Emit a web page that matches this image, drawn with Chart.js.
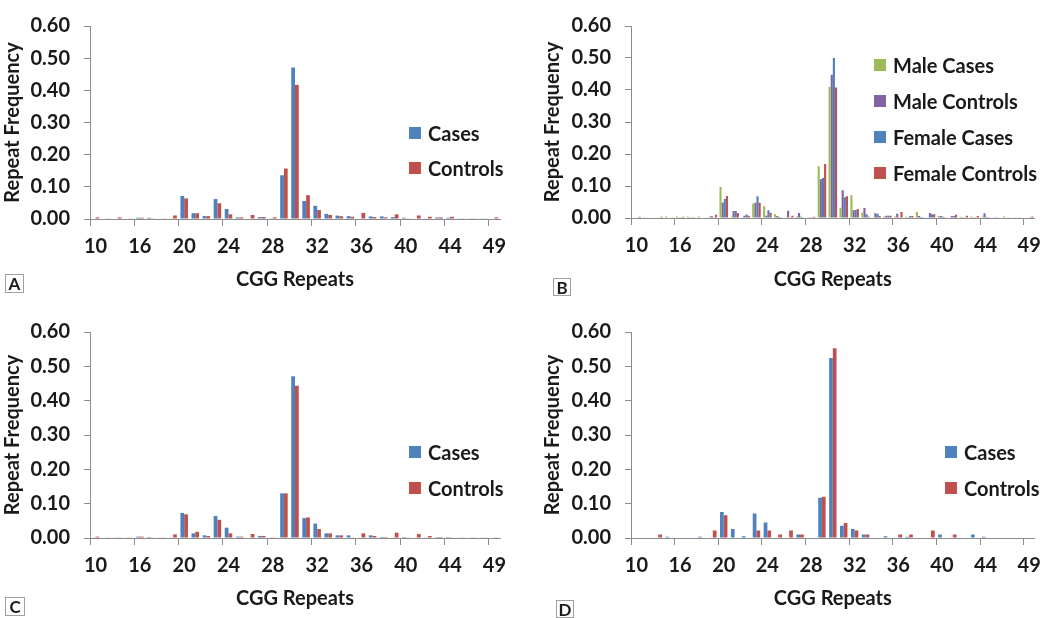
<!DOCTYPE html>
<html>
<head>
<meta charset="utf-8">
<script src="https://cdn.jsdelivr.net/npm/chart.js@4.4.1/dist/chart.umd.min.js"></script>
<style>
  html, body { margin: 0; padding: 0; background: #fff; }
  body { width: 1050px; height: 618px; position: relative; overflow: hidden; font-family: Lato, "Open Sans", sans-serif; }
  canvas { position: absolute; }
  .legend { position: absolute; font: bold 20px Lato, sans-serif; color: #1a1a1a; }
  .legend .item { position: absolute; height: 24px; line-height: 24px; white-space: nowrap; display: flex; align-items: center; }
  .legend .sw { width: 12px; height: 12px; display: inline-block; margin-right: 7px; }
  .tag { position: absolute; border: 1px solid #a0a0a0; font: bold 17px Lato, sans-serif; color: #1a1a1a; text-align: center; box-sizing: border-box; }
</style>
</head>
<body>
<canvas id="cA" width="520" height="300" style="left:0;top:0"></canvas>
<canvas id="cB" width="530" height="300" style="left:520px;top:0"></canvas>
<canvas id="cC" width="520" height="318" style="left:0;top:300px"></canvas>
<canvas id="cD" width="530" height="318" style="left:520px;top:300px"></canvas>

<div class="tag" style="left:5px;top:274px;width:19px;height:19px;line-height:18px">A</div>
<div class="tag" style="left:553px;top:278px;width:18px;height:18px;line-height:17px">B</div>
<div class="tag" style="left:5px;top:597px;width:20px;height:19px;line-height:18px">C</div>
<div class="tag" style="left:556px;top:600px;width:18px;height:18px;line-height:17px">D</div>

<script>
// CGG repeat categories (x axis)
const categories = ['10','12','13','14','16','17','18','19','20','21','22','23','24','25','26','27','28','29','30','31','32','33','34','35','36','37','38','39','40','41','42','43','44','45','46','47','49'];
const yTicks = [0, 0.1, 0.2, 0.3, 0.4, 0.5, 0.6];

// Panel A
const casesA    = [0,0,0,0,0.004,0.004,0,0.001,0.0715,0.018,0.009,0.062,0.031,0.005,0,0.006,0.001,0.136,0.471,0.056,0.041,0.016,0.0105,0.009,0,0.008,0.008,0.006,0.004,0,0.002,0.005,0.004,0.001,0.001,0.001,0];
const controlsA = [0.005,0.001,0.005,0.001,0.004,0.001,0.001,0.011,0.064,0.018,0.009,0.049,0.0145,0.005,0.0125,0.006,0.005,0.157,0.417,0.074,0.028,0.0126,0.0087,0.007,0.019,0.006,0.005,0.0145,0.001,0.011,0.007,0.005,0.007,0.001,0.001,0.001,0.005];

// Panel B
const maleCasesB      = [0,0.001,0,0.005,0.005,0.005,0.005,0.005,0.097,0.004,0.001,0.045,0.037,0.0117,0,0.005,0,0.162,0.409,0.032,0.071,0.0175,0.002,0.005,0.005,0.004,0.019,0.002,0.006,0,0.004,0.005,0.004,0,0.005,0.002,0];
const maleControlsB   = [0,0,0,0,0.001,0.001,0,0.006,0.048,0.022,0.007,0.0476,0.007,0.006,0.023,0.0155,0.002,0.121,0.448,0.087,0.024,0.031,0.0146,0.007,0.0136,0.002,0.006,0.0155,0.006,0.006,0.001,0.001,0.0146,0.001,0,0,0];
const femaleCasesB    = [0,0,0,0,0.002,0.002,0,0.001,0.059,0.022,0.011,0.068,0.024,0.003,0.001,0.004,0.001,0.125,0.50,0.065,0.025,0.0117,0.0136,0.007,0.002,0.006,0.003,0.0117,0.004,0.006,0.001,0.001,0.003,0.002,0.001,0.001,0.001];
const femaleControlsB = [0.004,0,0.004,0.001,0.004,0.001,0,0.01,0.069,0.0155,0.007,0.0476,0.0165,0.001,0.007,0.001,0.004,0.169,0.408,0.068,0.028,0.004,0.006,0.007,0.019,0.006,0.002,0.0117,0.002,0.01,0.007,0.006,0.001,0,0,0,0.005];

// Panel C
const casesC    = [0.001,0,0.001,0.001,0.004,0.003,0.001,0.001,0.073,0.0135,0.0077,0.064,0.030,0.004,0,0.006,0.001,0.130,0.471,0.058,0.042,0.0135,0.0077,0.0077,0,0.0077,0.003,0.001,0.003,0,0.001,0.003,0.003,0.001,0.001,0.001,0];
const controlsC = [0.004,0.002,0.002,0.002,0.004,0.001,0.001,0.0105,0.069,0.018,0.006,0.053,0.0135,0.004,0.0115,0.006,0.002,0.130,0.4435,0.060,0.026,0.0135,0.0077,0.001,0.0135,0.006,0.003,0.0155,0.001,0.0115,0.006,0.003,0.002,0.001,0.002,0.001,0.002];

// Panel D
const casesD    = [0,0,0,0.004,0,0,0.004,0,0.076,0.026,0.005,0.071,0.045,0,0,0.0105,0,0.117,0.524,0.0355,0.026,0.0105,0,0.005,0,0.004,0,0,0.0105,0,0,0.0105,0.004,0,0,0,0];
const controlsD = [0,0,0.0105,0,0,0,0,0.022,0.066,0,0,0.022,0.022,0.0105,0.022,0.0105,0,0.120,0.553,0.044,0.022,0.0105,0,0,0.0105,0.0105,0,0.022,0,0.0105,0,0,0,0,0,0,0];

const BLUE = '#4F81BD', RED = '#C0504D', GREEN = '#9BBB59', PURPLE = '#8064A2';
const AXIS = '#8c8c8c', TEXT = '#1a1a1a';

function makePanel(id, datasets, cfg) {
  const canvas = document.getElementById(id);
  return new Chart(canvas, {
    type: 'bar',
    data: {
      labels: categories,
      datasets: datasets.map(d => ({
        label: d.label, data: d.data, backgroundColor: d.color, borderWidth: 0,
        barPercentage: 1, categoryPercentage: cfg.catPct
      }))
    },
    options: {
      responsive: false, animation: false, devicePixelRatio: 1,
      layout: { padding: { top: cfg.padTop, right: cfg.padRight, left: 0, bottom: 0 } },
      plugins: { legend: { display: false }, tooltip: { enabled: false } },
      scales: {
        x: {
          offset: true,
          grid: {
            display: true, drawOnChartArea: false, drawTicks: true, tickLength: 7, offset: true,
            tickColor: (c) => (c.index !== undefined && c.index % 4 === 0) ? AXIS : 'rgba(0,0,0,0)',
            tickWidth: 1
          },
          border: { display: true, color: AXIS, width: 1 },
          ticks: {
            autoSkip: false, maxRotation: 0, minRotation: 0, padding: 9, color: TEXT,
            font: { family: 'Lato', weight: 'bold', size: 20 },
            callback: function (v, i) { return i % 4 === 0 ? this.getLabelForValue(v) : ''; }
          },
          title: {
            display: true, text: 'CGG Repeats', color: TEXT,
            font: { family: 'Lato', weight: 'bold', size: 20 },
            padding: { top: 0, bottom: cfg.xTitlePad }
          },
          afterFit: (s) => { s.height = cfg.xHeight; }
        },
        y: {
          min: 0, max: 0.6,
          afterBuildTicks: (s) => { s.ticks = yTicks.map(v => ({ value: v })); },
          grid: { display: true, drawOnChartArea: false, drawTicks: true, tickLength: 6, tickColor: AXIS },
          border: { display: true, color: AXIS, width: 1 },
          ticks: {
            padding: 14, color: TEXT,
            font: { family: 'Lato', weight: 'bold', size: 20 },
            callback: (v) => Number(v).toFixed(2)
          },
          title: {
            display: true, text: 'Repeat Frequency', color: TEXT,
            font: { family: 'Lato', weight: 'bold', size: 20 },
            padding: { top: cfg.yTitlePad, bottom: 0 }
          },
          afterFit: (s) => { s.width = cfg.yWidth; }
        }
      }
    }
  });
}

function makeLegend(chart, left, top, rows) {
  const box = document.createElement('div');
  box.className = 'legend';
  box.style.left = left + 'px';
  box.style.top = top + 'px';
  chart.data.datasets.forEach((ds, i) => {
    const it = document.createElement('div');
    it.className = 'item';
    it.style.top = (rows[i] - 12) + 'px';
    it.style.left = '0px';
    const sw = document.createElement('span');
    sw.className = 'sw';
    sw.style.background = ds.backgroundColor;
    const tx = document.createElement('span');
    tx.textContent = ds.label;
    it.appendChild(sw); it.appendChild(tx);
    box.appendChild(it);
  });
  document.body.appendChild(box);
}

function build() {
  Chart.defaults.font.family = 'Lato';
  const chA = makePanel('cA', [
    { label: 'Cases', data: casesA, color: BLUE },
    { label: 'Controls', data: controlsA, color: RED }
  ], { catPct: 0.68, padTop: 12, padRight: 20, yWidth: 90, xHeight: 81, xTitlePad: 8, yTitlePad: 1 });
  const chB = makePanel('cB', [
    { label: 'Male Cases', data: maleCasesB, color: GREEN },
    { label: 'Male Controls', data: maleControlsB, color: PURPLE },
    { label: 'Female Cases', data: femaleCasesB, color: BLUE },
    { label: 'Female Controls', data: femaleControlsB, color: RED }
  ], { catPct: 0.78, padTop: 12, padRight: 15, yWidth: 111, xHeight: 82, xTitlePad: 8, yTitlePad: 21 });
  const chC = makePanel('cC', [
    { label: 'Cases', data: casesC, color: BLUE },
    { label: 'Controls', data: controlsC, color: RED }
  ], { catPct: 0.68, padTop: 32, padRight: 20, yWidth: 90, xHeight: 80, xTitlePad: 7, yTitlePad: 1 });
  const chD = makePanel('cD', [
    { label: 'Cases', data: casesD, color: BLUE },
    { label: 'Controls', data: controlsD, color: RED }
  ], { catPct: 0.68, padTop: 32, padRight: 15, yWidth: 111, xHeight: 80, xTitlePad: 7, yTitlePad: 21 });

  makeLegend(chA, 409, 0, [133, 168]);
  makeLegend(chB, 874, 0, [65, 101, 137, 173]);
  makeLegend(chC, 409, 0, [452, 488]);
  makeLegend(chD, 945, 0, [452, 488]);
}

if (document.fonts && document.fonts.load) {
  document.fonts.load('bold 20px Lato').then(build, build);
} else {
  build();
}
</script>
</body>
</html>
